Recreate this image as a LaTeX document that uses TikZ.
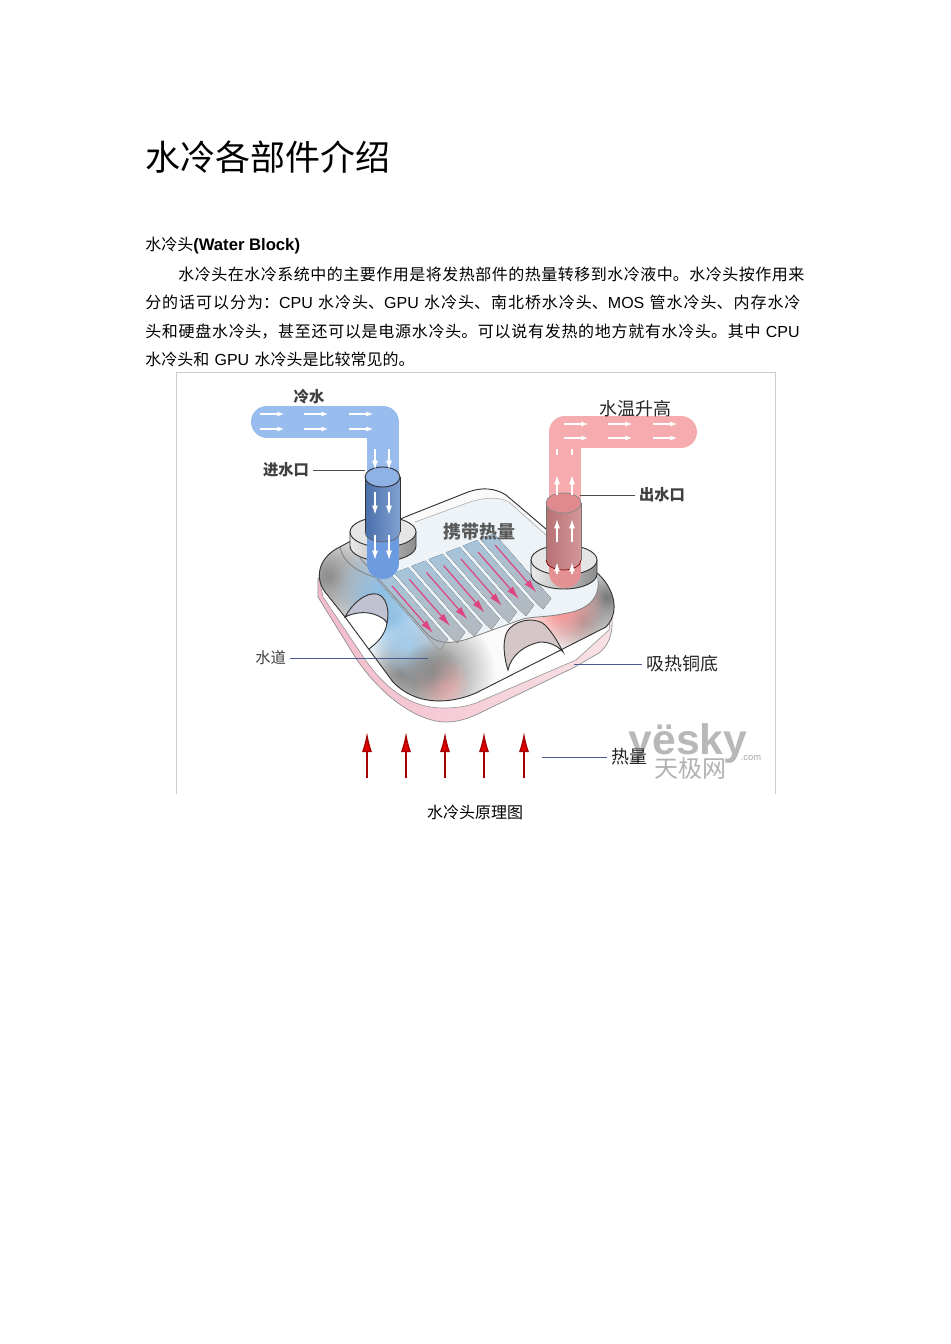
\documentclass[tikz,border=0pt]{standalone}
\usepackage{fontspec}
\usepackage{xcolor}
\setmainfont{Liberation Sans}
\newfontfamily\cjk{Noto Sans CJK SC}
\XeTeXlinebreaklocale "zh"
\XeTeXlinebreakskip=0pt plus 3pt
\usetikzlibrary{arrows.meta, positioning, fadings}

\definecolor{coldpipe}{HTML}{93B9EE}
\definecolor{coldcyl}{HTML}{5E8FDC}
\definecolor{hotpipe}{HTML}{F6A7AA}
\definecolor{hotcyl}{HTML}{E08A8D}
\definecolor{traytint}{HTML}{EDF3F7}
\definecolor{leaderblue}{HTML}{4B5A90}
\definecolor{finblue}{HTML}{A6C4DA}
\definecolor{fingray}{HTML}{B4B8BE}
\definecolor{fincolor}{HTML}{DC4580}
\definecolor{washblue}{HTML}{8DBFE6}
\definecolor{basepink}{HTML}{F3BBCB}
\definecolor{basepale}{HTML}{F8E2E6}

\tikzfading[name=softspot, inner color=transparent!0, outer color=transparent!100]

\newcommand{\bodyoutline}{(349,542) -- (405,517) -- (468,492) .. controls (482,487) and (495,488) .. (506,495) -- (546,529) -- (596,572) .. controls (612,585) and (622,610) .. (606,627) -- (476,693) .. controls (448,705) and (415,705) .. (393,682) -- (345,617) -- (325,592) .. controls (315,578) and (318,560) .. (336,549) -- cycle}

\begin{document}
\begin{tikzpicture}[
    x=0.75pt, y=-0.75pt,
    bodytext/.style={font=\fontsize{12pt}{21.4pt}\selectfont, inner sep=0pt, anchor=north west},
    partlabel/.style={font=\fontsize{11.5pt}{14pt}\selectfont\cjk\bfseries, text=black!75, inner sep=0pt, outer sep=3pt},
    widelabel/.style={partlabel, font=\fontsize{13.5pt}{16pt}\selectfont\cjk, text=black!85},
    leader/.style={draw=black!70, line width=0.7pt},
    navyleader/.style={draw=leaderblue, line width=0.7pt},
    edge/.style={draw=black!80, line width=0.7pt},
    softedge/.style={draw=black!50, line width=0.6pt},
    flow/.style={draw=white, line width=0.9pt, -{Latex[length=5pt,width=4pt]}},
    hotflow/.style={draw=white, line width=1.1pt, -{Latex[length=7pt,width=4.5pt]}},
    fincurrent/.style={draw=fincolor, line width=0.9pt, -{Latex[length=10pt,width=5.5pt]}},
    heatarrow/.style={draw=red!65!black, line width=1.1pt, -{Latex[length=15pt,width=7.5pt,fill=red!90!black]}},
    smudge/.style={path fading=softspot}
]
    % Page
    \fill[white] (0,0) rectangle (950,1344);
    \useasboundingbox (0,0) rectangle (950,1344);

    % Heading and paragraph
    \node[font=\fontsize{26.25pt}{30pt}\selectfont\cjk, inner sep=0pt, anchor=west] (title) at (145,157) {水冷各部件介绍};
    \node[bodytext, anchor=west] (heading) at (145,246) {{\cjk 水冷头}{\fontsize{12.5pt}{14pt}\selectfont\bfseries (Water Block)}};
    \node[bodytext, text width=497.25pt] (para) at (145,266.5) {%
        \parfillskip=0pt \baselineskip=21.4pt \setlength{\parindent}{24.75pt}%
        \indent{\cjk 水冷头在水冷系统中的主要作用是将发热部件的热量转移到水冷液中。水冷头按作用来}\par
        \noindent{\cjk 分的话可以分为：}CPU {\cjk 水冷头、}GPU {\cjk 水冷头、南北桥水冷头、}MOS {\cjk 管水冷头、内存水冷}\par
        \noindent{\cjk 头和硬盘水冷头，甚至还可以是电源水冷头。可以说有发热的地方就有水冷头。其中} CPU\hspace*{2.2pt}\par
        \parfillskip=0pt plus 1fil
        \noindent{\cjk 水冷头和} GPU {\cjk 水冷头是比较常见的。}\par};
    \node[bodytext, anchor=center, font=\fontsize{12pt}{14pt}\selectfont\cjk] (caption) at (475,812) {水冷头原理图};

    % Image frame
    \draw[black!20, line width=0.5pt] (176,794) -- (176,372.5) -- (775.5,372.5) -- (775.5,794);

    % Base plate
    \draw[black!45, line width=0.5pt, left color=basepink, right color=basepale] (318,578) -- (318,597) -- (357,660) .. controls (385,700) and (420,722) .. (446,722) .. controls (462,722) and (474,716) .. (490,708) -- (573,668) -- (599,653) .. controls (608,646) and (613,635) .. (612,618) -- cycle;
    \draw[black!40, line width=0.5pt, fill=white] (319,578) -- (323,597) -- (362,655) .. controls (385,690) and (412,708) .. (443,708) .. controls (455,708) and (465,707) .. (476,703) -- (576,660) -- (609,630) -- (612,600) -- cycle;

    % Body
    \fill[black!2] \bodyoutline;
    \begin{scope}
        \clip \bodyoutline;
        \fill[black!50, smudge] (330,577) circle (52);
        \fill[black!30, smudge] (365,590) circle (50);
        \fill[black!45, smudge] (400,672) circle (38);
        \fill[black!50, smudge] (435,672) circle (60);
        \fill[red!30, smudge] (442,684) circle (28);
        \fill[black!55, smudge] (606,598) circle (38);
        \fill[black!40, smudge] (583,620) circle (38);
        \fill[red!45, smudge] (560,606) circle (44);
        \fill[washblue, smudge] (380,590) circle (46);
        \fill[washblue, smudge] (392,618) circle (42);
        \fill[washblue!80, smudge] (408,644) circle (34);
    \end{scope}

    % Fin tray
    \fill[traytint] (372,572) -- (428,635) .. controls (438,645) and (455,644) .. (473,637) -- (520,620) .. controls (530,616) and (545,618) .. (567,613) .. controls (585,610) and (600,600) .. (598,580) -- (546,535) -- (509,502) .. controls (500,497) and (485,497) .. (470,502) -- (415,522) -- cycle;
    \foreach \i in {0,...,6} {
        \pgfmathsetmacro\fx{392+17.2*\i}
        \pgfmathsetmacro\fy{586-6.8*\i}
        \fill[top color=finblue, bottom color=fingray] ({\fx-8-7},{\fy-9+2.7}) -- ({\fx-8+7},{\fy-9-2.7}) -- ({\fx+49+7},{\fy+56-2.7}) -- ({\fx+49-1},{\fy+56+8}) -- ({\fx+49-7},{\fy+56+2.7}) -- cycle;
        \draw[fincurrent] (\fx,\fy) -- ({\fx+41},{\fy+47});
    }
    \fill[black!45, smudge] (430,672) circle (30);
    \draw[softedge] (360,558) -- (428,635) .. controls (438,645) and (455,644) .. (473,637) -- (520,620) .. controls (530,616) and (545,618) .. (567,613) .. controls (585,610) and (600,600) .. (598,580);
    \draw[black!30, line width=0.5pt] (415,522) -- (470,502) .. controls (485,497) and (500,497) .. (509,502) -- (546,535);
    \draw[softedge] (340,547) .. controls (342,560) and (355,572) .. (378,578);

    % Water channels
    \fill[white] (345,617) .. controls (355,612) and (370,610) .. (382,618) -- (387,623) .. controls (385,635) and (378,642) .. (369,649) -- cycle;
    \draw[edge, fill=cyan!35!blue!25!gray!45] (345,617) .. controls (352,604) and (365,592) .. (377,594) .. controls (386,596) and (390,610) .. (387,623) .. controls (385,620) and (383,618) .. (382,618) .. controls (370,610) and (355,612) .. (345,617) -- cycle;
    \draw[edge] (387,623) .. controls (385,635) and (378,642) .. (369,649);
    \fill[white] (508,670) .. controls (511,655) and (525,645) .. (540,642) .. controls (550,642) and (558,646) .. (563,652) -- cycle;
    \draw[edge, fill=red!25!black!22] (508,670) .. controls (503,655) and (502,635) .. (510,628) .. controls (520,618) and (538,618) .. (545,625) .. controls (552,632) and (558,642) .. (563,652) .. controls (558,646) and (550,642) .. (540,642) .. controls (525,645) and (511,655) .. (508,670) -- cycle;
    \draw[edge] \bodyoutline;

    % Collars
    \foreach \cx/\cy in {383/532, 564/560} {
        \draw[edge, left color=black!8, right color=black!45] ({\cx-33},\cy) -- ({\cx-33},{\cy+14}) arc[start angle=180, end angle=0, x radius=33, y radius=15] -- ({\cx+33},\cy) -- cycle;
        \draw[edge, fill=black!10] (\cx,\cy) ellipse [x radius=33, y radius=15];
    }

    % Pipes
    \draw[coldpipe, opacity=0.95, line width=24pt, line cap=round, line join=round] (267,421.5) -- (382.5,421.5) -- (382.5,563);
    \draw[coldcyl!75!coldpipe, opacity=0.95, line width=24pt, line cap=round] (382.5,540) -- (382.5,563);
    \draw[hotpipe, opacity=0.95, line width=24pt, line cap=round, line join=round] (681,432) -- (565,432) -- (565,572);
    \draw[hotcyl!80!hotpipe, opacity=0.95, line width=24pt, line cap=round] (565,560) -- (565,572);

    % Cylinders
    \fill[left color=coldcyl!85!black, right color=coldcyl!70!white, opacity=0.9] (365,477) -- (365,532) arc[start angle=180, end angle=0, x radius=17.5, y radius=10] -- (400,477) -- cycle;
    \draw[edge] (365,477) -- (365,532);
    \draw[edge] (400,477) -- (400,532);
    \draw[edge, fill=coldcyl!70!white] (382.5,477) ellipse [x radius=17.5, y radius=10];
    \draw[black!60, line width=0.5pt] (365,532) arc[start angle=180, end angle=0, x radius=17.5, y radius=10];
    \fill[left color=hotcyl!90!black, right color=hotcyl!75!white, opacity=0.9] (546,503) -- (546,560) arc[start angle=180, end angle=0, x radius=17.5, y radius=10] -- (581,503) -- cycle;
    \draw[black!55, line width=0.6pt] (546,503) -- (546,560);
    \draw[black!55, line width=0.6pt] (581,503) -- (581,560);
    \draw[black!45, line width=0.6pt, fill=hotcyl] (563.5,503) ellipse [x radius=17.5, y radius=10];
    \draw[red!50!black, line width=0.5pt] (546,560) arc[start angle=180, end angle=0, x radius=17.5, y radius=10];

    % Flow arrows
    \foreach \fy in {414,429} {
        \foreach \fx in {260,304,349} {
            \draw[flow] (\fx,\fy) -- ({\fx+24},\fy);
        }
    }
    \foreach \fx in {375,389} {
        \draw[hotflow] (\fx,449) -- (\fx,470);
        \draw[hotflow] (\fx,492) -- (\fx,515);
        \draw[hotflow] (\fx,535) -- (\fx,560);
    }
    \foreach \fy in {424,438} {
        \foreach \fx in {564,608,653} {
            \draw[flow] (\fx,\fy) -- ({\fx+24},\fy);
        }
    }
    \foreach \fx in {557,572} {
        \draw[white, line width=1.1pt] (\fx,449) -- (\fx,455);
        \draw[hotflow] (\fx,495) -- (\fx,475);
        \draw[hotflow] (\fx,542) -- (\fx,519);
        \draw[hotflow] (\fx,574) -- (\fx,562);
    }

    % Heat arrows
    \foreach \hx in {367,406,445,484,524} {
        \draw[heatarrow] (\hx,778) -- (\hx,732);
    }

    % Watermark
    \node[font=\fontsize{32pt}{36pt}\selectfont\bfseries, text=black!28, inner sep=0pt] (brand) at (688,743) {yësky};
    \node[font=\fontsize{7pt}{8pt}\selectfont, text=black!35, inner sep=0pt] (brandcom) at (751,758) {.com};
    \node[font=\fontsize{18pt}{19pt}\selectfont\cjk, text=black!30, inner sep=0pt] (brandcn) at (690,768) {天极网};

    % Labels
    \node[partlabel] (cold) at (309,397) {冷水};
    \node[widelabel] (warm) at (635,409) {水温升高};
    \node[widelabel, font=\fontsize{13.5pt}{16pt}\selectfont\cjk\bfseries, text=black!65] (carry) at (479,532) {携带热量};

    \coordinate (inlet) at (365,470);
    \node[partlabel, left=39pt of inlet] (inletlabel) {进水口};
    \draw[leader] (inletlabel) -- (inlet);

    \coordinate (outlet) at (580,495);
    \node[partlabel, right=41.25pt of outlet] (outletlabel) {出水口};
    \draw[leader] (outletlabel) -- (outlet);

    \coordinate (channel) at (428,658);
    \node[partlabel, font=\fontsize{11.5pt}{14pt}\selectfont\cjk, left=103.5pt of channel] (channellabel) {水道};
    \draw[navyleader] (channellabel) -- (channel);

    \coordinate (base) at (574,664);
    \node[widelabel, right=51pt of base] (baselabel) {吸热铜底};
    \draw[navyleader] (baselabel) -- (base);

    \coordinate (heat) at (542,757);
    \node[widelabel, right=48.75pt of heat] (heatlabel) {热量};
    \draw[navyleader] (heatlabel) -- (heat);
\end{tikzpicture}
\end{document}
